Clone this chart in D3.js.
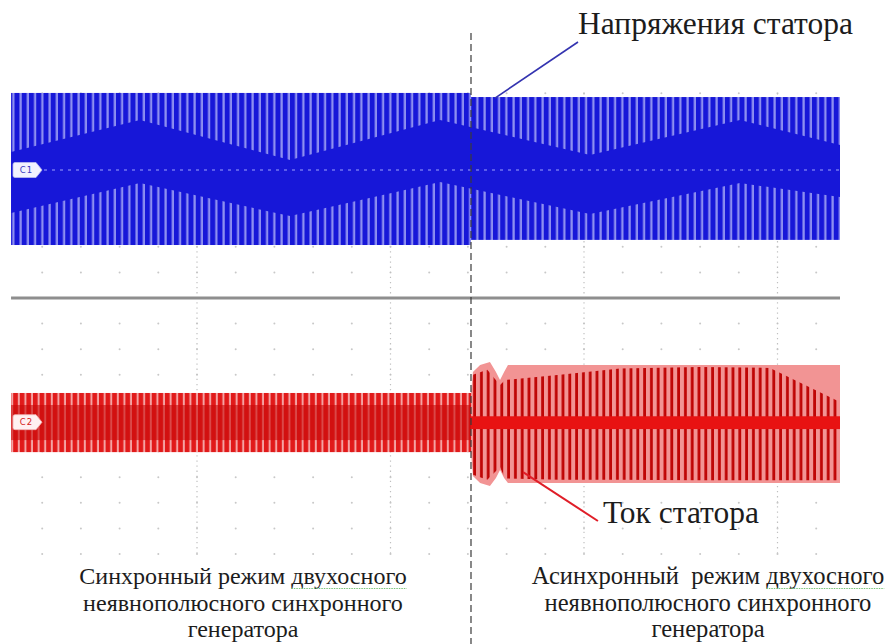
<!DOCTYPE html>
<html lang="ru">
<head>
<meta charset="UTF-8">
<title>Напряжение и ток статора</title>
<style>
  body { margin: 0; background: #fff; }
  svg { display: block; }
</style>
</head>
<body>
<svg id="scope" width="888" height="644"></svg>
<script src="https://cdn.jsdelivr.net/npm/d3@7"></script>
<script>
// units: t in major time divisions, v in vertical divisions from screen centre
const channels = ["C1", "C2"];
const chOffset = [5, -4.85];
const switchT = 2.416;

// C1 (stator voltage): two segments, before/after switching
const c1SegT0 = [0.039, 2.416];
const c1SegT1 = [2.416, 4.323];
const c1SegMax = [8.01, 7.85];
const c1SegMin = [2.07, 2.27];
// dense core of C1 trace (envelope)
const c1CoreT = [0.039, 0.705, 1.481, 2.256, 3.031, 3.806, 4.323];
const c1CoreHi = [5.70, 6.95, 5.39, 6.95, 5.59, 6.95, 5.98];
const c1CoreLo = [3.32, 4.49, 3.20, 4.53, 3.28, 4.49, 3.95];

// C2 (stator current), synchronous part
const c2SyncT = [0.039, 2.416];
const c2SyncMax = -3.71, c2SyncMin = -6.02;
const c2SyncCoreHi = -4.18, c2SyncCoreLo = -5.55;
// asynchronous part, outer envelope
const c2AsyncT = [2.416, 2.426, 2.463, 2.514, 2.545, 2.566, 2.587, 2.607, 4.323];
const c2AsyncHi = [-3.71, -2.89, -2.62, -2.50, -2.89, -3.20, -2.89, -2.62, -2.62];
const c2AsyncLo = [-6.02, -6.95, -7.23, -7.34, -7.03, -6.72, -7.03, -7.23, -7.23];
// region covered by the dark peaks
const c2PeakT = [2.426, 2.50, 2.566, 2.592, 2.876, 3.186, 3.599, 3.961, 4.323];
const c2PeakHi = [-3.0, -2.8, -3.4, -3.2, -3.0, -2.75, -2.70, -2.73, -4.06];
const c2PeakLo = [-6.9, -7.1, -6.6, -7.05, -7.1, -7.1, -7.12, -7.12, -7.12];
const c2MidHi = -4.62, c2MidLo = -5.12;

// first serif face that is really installed
function pickFont(list) {
  const ctx = document.createElement("canvas").getContext("2d");
  const probe = "mmmwwwiiilllAWQ";
  ctx.font = "40px monospace";
  const base = ctx.measureText(probe).width;
  for (const f of list) {
    ctx.font = `40px "${f}", monospace`;
    if (ctx.measureText(probe).width !== base) return `"${f}", serif`;
  }
  return "serif";
}
const serif = pickFont(["Liberation Serif", "Times New Roman", "Tinos", "DejaVu Serif", "Noto Serif", "FreeSerif", "Nimbus Roman"]);

const svg = d3.select("#scope");
const x = d3.scaleLinear().domain([0, 1]).range([3.5, 197]);
const y = d3.scaleLinear().domain([0, 1]).range([298, 272.4]);

const defs = svg.append("defs");
function stripes(id, period, width, base, line) {
  const p = defs.append("pattern").attr("id", id)
    .attr("patternUnits", "userSpaceOnUse")
    .attr("width", period).attr("height", 20);
  if (base) p.append("rect").attr("width", period).attr("height", 20).attr("fill", base);
  p.append("rect").attr("x", period - width).attr("width", width).attr("height", 20).attr("fill", line);
}
stripes("blueStr", 7.25, 2.3, "#1717d8", "#8d8ff0");
stripes("redStr", 6.6, 2.0, "#e11a1a", "#f4a3a3");
stripes("redLines", 6.8, 2.8, null, "#bf0505");

// ---- grid
const grid = svg.append("g");
const minorT = d3.range(1, 22).map(i => i * 0.2);
const rowsV = d3.range(-10, 9).filter(v => v !== 0);
rowsV.forEach(v => {
  grid.selectAll(null).data(minorT).join("circle")
    .attr("cx", d => x(d)).attr("cy", y(v)).attr("r", 1)
    .attr("fill", "#c8c8c8");
});
[1, 2, 3, 4].forEach(t => {
  grid.append("line")
    .attr("x1", x(t)).attr("x2", x(t)).attr("y1", y(8)).attr("y2", y(-10))
    .attr("stroke", "#c0c0c0").attr("stroke-width", 1.2)
    .attr("stroke-dasharray", "1.3,3.8");
});

// ---- C1 trace
const g1 = svg.append("g");
g1.selectAll("rect").data(c1SegT0).join("rect")
  .attr("x", (d, i) => x(d))
  .attr("width", (d, i) => x(c1SegT1[i]) - x(d))
  .attr("y", (d, i) => y(c1SegMax[i]))
  .attr("height", (d, i) => y(c1SegMin[i]) - y(c1SegMax[i]))
  .attr("fill", "url(#blueStr)");
const band = d3.area().x(d => x(d.t)).y0(d => y(d.lo)).y1(d => y(d.hi));
g1.append("path")
  .attr("d", band(c1CoreT.map((t, i) => ({ t, hi: c1CoreHi[i], lo: c1CoreLo[i] }))))
  .attr("fill", "#1717d8");
g1.append("line")
  .attr("x1", 44).attr("x2", x(c1SegT1[1])).attr("y1", y(chOffset[0])).attr("y2", y(chOffset[0]))
  .attr("stroke", "#9fa2ff").attr("stroke-width", 1).attr("stroke-dasharray", "3,5");

// ---- screen centre line
svg.append("line")
  .attr("x1", x(0.039)).attr("x2", x(4.323)).attr("y1", y(0)).attr("y2", y(0))
  .attr("stroke", "#8e8e8e").attr("stroke-width", 3);

// ---- C2 trace
const g2 = svg.append("g");
g2.append("rect")
  .attr("x", x(c2SyncT[0])).attr("width", x(c2SyncT[1]) - x(c2SyncT[0]))
  .attr("y", y(c2SyncMax)).attr("height", y(c2SyncMin) - y(c2SyncMax))
  .attr("fill", "url(#redStr)");
g2.append("rect")
  .attr("x", x(c2SyncT[0])).attr("width", x(c2SyncT[1]) - x(c2SyncT[0]))
  .attr("y", y(c2SyncCoreHi)).attr("height", y(c2SyncCoreLo) - y(c2SyncCoreHi))
  .attr("fill", "#c80a0a").attr("opacity", 0.6);
g2.append("path")
  .attr("d", band(c2AsyncT.map((t, i) => ({ t, hi: c2AsyncHi[i], lo: c2AsyncLo[i] }))))
  .attr("fill", "#f29494");
g2.append("path")
  .attr("d", band(c2PeakT.map((t, i) => ({ t, hi: c2PeakHi[i], lo: c2PeakLo[i] }))))
  .attr("fill", "url(#redLines)");
g2.append("rect")
  .attr("x", x(switchT)).attr("width", x(4.323) - x(switchT))
  .attr("y", y(c2MidHi)).attr("height", y(c2MidLo) - y(c2MidHi))
  .attr("fill", "#e81212");

// ---- channel markers
const mk = svg.append("g");
channels.forEach((c, i) => {
  const cy = y(chOffset[i]);
  const blue = i === 0;
  mk.append("path")
    .attr("d", `M15,${cy - 7.5}H36L42,${cy}L36,${cy + 7.5}H15Q13,${cy + 7.5} 13,${cy + 5.5}V${cy - 5.5}Q13,${cy - 7.5} 15,${cy - 7.5}Z`)
    .attr("fill", blue ? "#f1f1ff" : "#fff1f1")
    .attr("stroke", blue ? "#b9bbee" : "#f0b0b0").attr("stroke-width", 0.8);
  mk.append("text").text(c)
    .attr("x", 26.5).attr("y", cy + 3)
    .attr("text-anchor", "middle")
    .attr("font-family", "DejaVu Sans").attr("font-size", 8.5)
    .attr("letter-spacing", 1)
    .attr("fill", blue ? "#3a3ac0" : "#d42020");
});

// ---- switching moment
svg.append("line")
  .attr("x1", x(switchT)).attr("x2", x(switchT)).attr("y1", 33).attr("y2", 644)
  .attr("stroke", "#3a3a3a").attr("stroke-width", 1.2).attr("stroke-dasharray", "7,4");

// ---- annotations
svg.append("line")
  .attr("x1", x(2.540)).attr("y1", y(7.81)).attr("x2", x(2.969)).attr("y2", y(10.0))
  .attr("stroke", "#3434b0").attr("stroke-width", 1.6);
svg.append("line")
  .attr("x1", x(2.685)).attr("y1", y(-6.80)).attr("x2", x(3.072)).attr("y2", y(-8.71))
  .attr("stroke", "#e01e28").attr("stroke-width", 2);

// text, optionally sized so its width matches the picture
function label(s, px, py, size, anchor) {
  return svg.append("text")
    .attr("x", px).attr("y", py)
    .attr("font-family", serif).attr("font-size", size)
    .attr("fill", "#1c1c1c")
    .attr("text-anchor", anchor || "start")
    .style("white-space", "pre").text(s);
}
function fitSize(s, width) {
  const t = label(s, 0, -50, 24);
  const w = t.node().getComputedTextLength();
  t.remove();
  return 24 * width / w;
}
label("Напряжения статора", 578, 34, fitSize("Напряжения статора", 275));
label("Ток статора", 603, 523, fitSize("Ток статора", 156));

function block(cx, lines, width2) {
  const size = Math.min(25, fitSize(lines[1], width2));
  lines.forEach((s, i) => {
    const t = label(s, cx, [584, 611, 637][i], size, "middle");
    const k = s.indexOf("двухосного");
    if (k >= 0) {
      const node = t.node();
      const x0 = node.getStartPositionOfChar(k).x;
      const w = node.getSubStringLength(k, 10);
      svg.append("line")
        .attr("x1", x0).attr("x2", x0 + w).attr("y1", 588.5).attr("y2", 588.5)
        .attr("stroke", "#7cc47c").attr("stroke-width", 1.2).attr("stroke-dasharray", "1.5,1");
    }
  });
}
block(243, ["Синхронный режим двухосного", "неявнополюсного синхронного", "генератора"], 320);
block(708, ["Асинхронный  режим двухосного", "неявнополюсного синхронного", "генератора"], 327);
</script>
</body>
</html>
